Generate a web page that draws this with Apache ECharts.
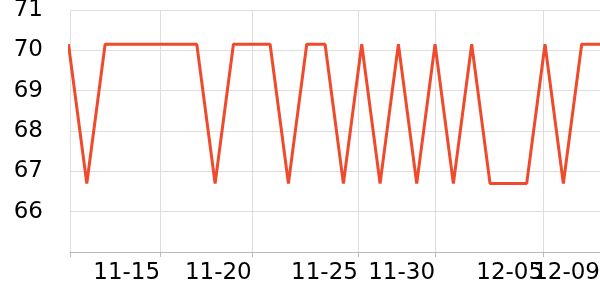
<!DOCTYPE html>
<html>
<head>
<meta charset="utf-8">
<script src="https://cdn.jsdelivr.net/npm/echarts@6/dist/echarts.min.js"></script>
<style>html,body{margin:0;padding:0;background:#fff}#c{width:600px;height:300px}</style>
</head>
<body>
<div id="c"></div>
<script>
var dates = ['2023-11-10','2023-11-11','2023-11-12','2023-11-13','2023-11-14','2023-11-15','2023-11-16','2023-11-17','2023-11-18','2023-11-19','2023-11-20','2023-11-21','2023-11-22','2023-11-23','2023-11-24','2023-11-25','2023-11-26','2023-11-27','2023-11-28','2023-11-29','2023-11-30','2023-12-01','2023-12-02','2023-12-03','2023-12-04','2023-12-05','2023-12-06','2023-12-07','2023-12-08','2023-12-09'];
var values = [70.15,66.7,70.15,70.15,70.15,70.15,70.15,70.15,66.7,70.15,70.15,70.15,66.7,70.15,70.15,66.7,70.15,66.7,70.15,66.7,70.15,66.7,70.15,66.7,66.7,66.7,70.15,66.7,70.15,70.15];
var tickTimes = ['2023-11-15 00:00','2023-11-20 00:00','2023-11-25 19:00','2023-11-30 00:00','2023-12-05 21:30','2023-12-09 00:00'];
var tickLabels = ['11-15','11-20','11-25','11-30','12-05','12-09'];
var axisStart = '2023-11-10 02:00';
var axisEnd = '2023-12-09 00:00';
var yMin = 65, yMax = 71, yStep = 1;

function ts(s){
  var p = s.split(/[- :]/).map(Number);
  return Date.UTC(p[0], p[1]-1, p[2], p[3]||0, p[4]||0);
}
var tickNums = tickTimes.map(ts);
var data = dates.map(function(d,i){ return [ts(d), values[i]]; });
var lastTick = tickNums[tickNums.length-1];
var innerTicks = tickNums.slice(0, tickNums.length-1);

function fmt(v){
  var i = tickNums.indexOf(v);
  return i>=0 ? tickLabels[i] : '';
}
var labelStyle = {align:'right',margin:10,fontSize:23,color:'#000',fontFamily:'DejaVu Sans',formatter:fmt,hideOverlap:false};

var chart = echarts.init(document.getElementById('c'), null, {renderer:'canvas'});
chart.setOption({
  animation:false,
  grid:{left:70,right:0,top:10,bottom:48,containLabel:false,outerBoundsMode:'none'},
  xAxis:[{
    type:'value',
    min:ts(axisStart), max:ts(axisEnd),
    axisLine:{show:true,lineStyle:{color:'#bbb',width:1}},
    axisTick:{show:true,length:5,lineStyle:{color:'#bbb'},customValues:[ts(axisStart)].concat(tickNums)},
    splitLine:{show:true,lineStyle:{color:'#ddd',width:1}},
    axisLabel:Object.assign({customValues:innerTicks}, labelStyle)
  },{
    type:'value',
    position:'bottom',
    min:ts(axisStart), max:ts(axisEnd),
    axisLine:{show:false},
    axisTick:{show:false},
    splitLine:{show:false},
    axisLabel:Object.assign({customValues:[lastTick],showMaxLabel:true}, labelStyle)
  }],
  yAxis:{
    type:'value',
    min:yMin, max:yMax, interval:yStep,
    axisLine:{show:false},
    axisTick:{show:false},
    splitLine:{show:true,lineStyle:{color:'#ddd',width:1}},
    axisLabel:{showMinLabel:false,margin:27,fontSize:23,color:'#000',fontFamily:'DejaVu Sans'}
  },
  series:[{
    type:'line',
    data:data,
    showSymbol:false,
    symbol:'none',
    clip:true,
    lineStyle:{color:'#ef4a2c',width:3},
    itemStyle:{color:'#ef4a2c'}
  }]
});
</script>
</body>
</html>
